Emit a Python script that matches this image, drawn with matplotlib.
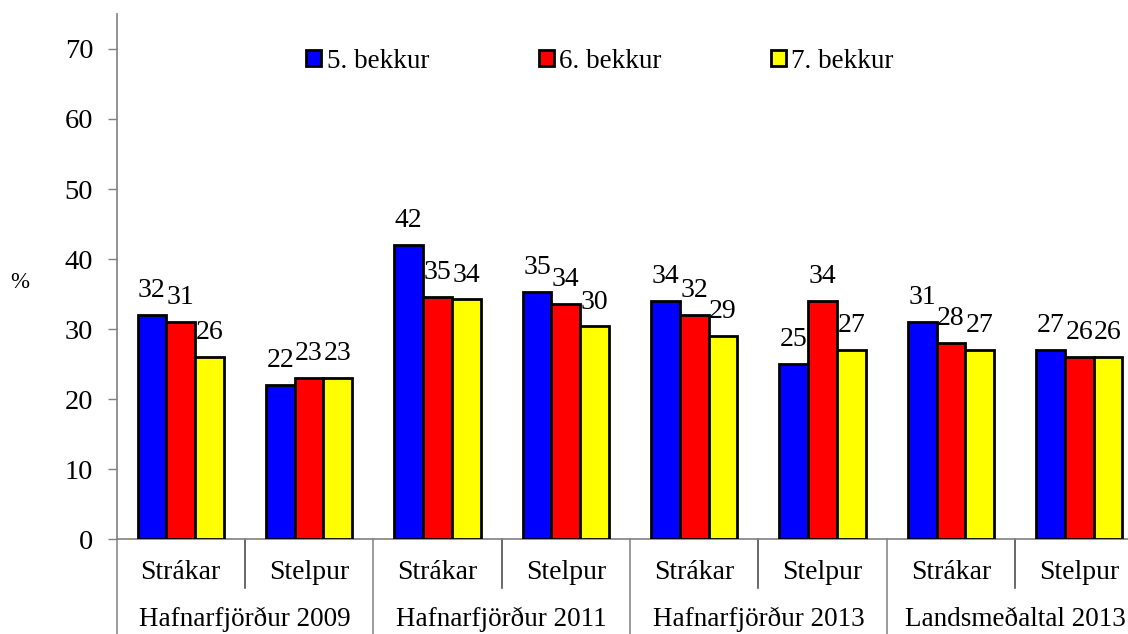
import numpy as np
import matplotlib
matplotlib.use("Agg")
import matplotlib.pyplot as plt
from matplotlib.patches import Patch
import matplotlib.transforms as mtransforms

plt.rcParams['font.family'] = ['Liberation Serif', 'DejaVu Serif']

# ---------------- data ----------------
groups = ["Hafnarfjörður 2009", "Hafnarfjörður 2011", "Hafnarfjörður 2013", "Landsmeðaltal 2013"]
subcats = ["Strákar", "Stelpur"]
series = ["5. bekkur", "6. bekkur", "7. bekkur"]

bekkur5 = [32, 22, 42, 35.35, 34, 25, 31, 27]
bekkur6 = [31, 23, 34.6, 33.6, 32, 34, 28, 26]
bekkur7 = [26, 23, 34.25, 30.4, 29, 27, 27, 26]

colors = ["#0000FF", "#FF0000", "#FFFF00"]

FS = 19.5
GRAY = "#808080"

fig = plt.figure(figsize=(11.28, 6.34), dpi=100)
# axes slightly wider than the figure: the right-most category is cut off in the original
ax = fig.add_axes([116.5 / 1128, 1 - 539.3 / 634, 1027 / 1128, 525.4 / 634])

n = len(groups) * len(subcats)
x = np.arange(n)
w = 0.224
for i, (vals, col) in enumerate(zip([bekkur5, bekkur6, bekkur7], colors)):
    pos = x + (i - 1) * w
    ax.bar(pos, vals, width=w, color=col, edgecolor="black", linewidth=2.0, zorder=3)
    for px, v in zip(pos, vals):
        ax.annotate(f"{v:.0f}", (px, v), xytext=(0, 8.5), textcoords="offset points",
                    ha="center", va="bottom", fontsize=20)

ax.set_xlim(-0.5, n - 0.5)
ax.set_ylim(0, 75)
ax.set_yticks(np.arange(0, 71, 10))
ax.tick_params(axis="y", labelsize=20.5, length=6.3, width=1, color=GRAY, pad=10.5, direction="out")
ax.set_xticks([])

for s in ["top", "right"]:
    ax.spines[s].set_visible(False)
ax.spines["left"].set_color(GRAY)
ax.spines["bottom"].set_color(GRAY)
ax.spines["left"].set_linewidth(1.2)
ax.spines["bottom"].set_linewidth(1.2)

# two-level category axis
trans = mtransforms.blended_transform_factory(ax.transData, ax.transAxes)
for k in range(n + 1):
    xb = k - 0.5
    y_end = -0.18 if k % 2 == 0 else -0.0927
    ax.plot([xb, xb], [0, y_end], color="#404040" if k % 2 else GRAY, lw=1.1,
            transform=trans, clip_on=False)
for k in range(n):
    ax.text(k, -0.064, subcats[k % 2], transform=trans, ha="center", va="center", fontsize=20)
for g, name in enumerate(groups):
    ax.text(2 * g + 0.5, -0.153, name, transform=trans, ha="center", va="center", fontsize=FS)

fig.text(20 / 1128, 1 - 282 / 634, "%", ha="center", va="center", fontsize=16.5)

handles = [Patch(facecolor=c, edgecolor="black", linewidth=2.0) for c in colors]
ax.legend(handles, series, loc="center", bbox_to_anchor=(600 / 1128, 1 - 61 / 634),
          bbox_transform=fig.transFigure, ncol=3, frameon=False, fontsize=FS,
          handlelength=0.55, handleheight=0.55, handletextpad=0.2, columnspacing=4.05,
          borderpad=0)

fig.savefig("out.png", dpi=100)
